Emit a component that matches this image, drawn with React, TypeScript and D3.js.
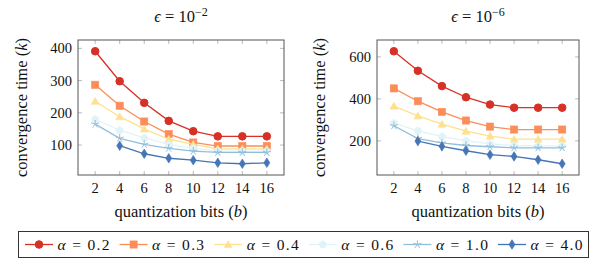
import * as d3 from 'd3';

const BITS = [2, 4, 6, 8, 10, 12, 14, 16];
const ALPHAS = ['0.2', '0.3', '0.4', '0.6', '1.0', '4.0'];
const COLORS = ['#d73027', '#fc8d59', '#fee090', '#e0f3f8', '#91bfdb', '#4575b4'];
const MARKERS = ['circle', 'square', 'triangle', 'pentagon', 'star', 'diamond'];

// eps = 1e-2 (alpha 4.0 has no value at b = 2)
const LEFT_A02 = [391, 298, 231, 175, 143, 127, 127, 127];
const LEFT_A03 = [287, 222, 173, 134, 108, 97, 97, 97];
const LEFT_A04 = [236, 188, 150, 118, 102, 88, 88, 88];
const LEFT_A06 = [180, 146, 122, 102, 90, 82, 81, 81];
const LEFT_A10 = [165, 121, 102, 90, 81, 77, 77, 77];
const LEFT_A40 = [null, 98, 73, 59, 53, 45, 42, 45];

// eps = 1e-6
const RIGHT_A02 = [627, 534, 461, 408, 373, 358, 358, 358];
const RIGHT_A03 = [450, 389, 338, 297, 268, 254, 254, 254];
const RIGHT_A04 = [366, 319, 280, 246, 223, 208, 208, 208];
const RIGHT_A06 = [285, 248, 221, 200, 186, 178, 176, 176];
const RIGHT_A10 = [272, 211, 190, 178, 172, 167, 167, 167];
const RIGHT_A40 = [null, 199, 174, 153, 134, 126, 110, 91];

const LEFT_TICKS = [100, 200, 300, 400];
const RIGHT_TICKS = [200, 400, 600];

const NUM = { fontFamily: '"Liberation Serif"', fontSize: 14.5 };
const BIG = { fontFamily: '"Liberation Serif"', fontSize: 16.5 };
const LEG = { fontFamily: '"Liberation Serif"', fontSize: 15.5 };

type Series = (number | null)[];

function polygon(n: number, r: number, rot = -Math.PI / 2) {
  const pts: string[] = [];
  for (let i = 0; i < n; i++) {
    const a = rot + (i * 2 * Math.PI) / n;
    pts.push(`${(r * Math.cos(a)).toFixed(2)},${(r * Math.sin(a)).toFixed(2)}`);
  }
  return 'M' + pts.join('L') + 'Z';
}

function Marker({ kind, color }: { kind: string; color: string }) {
  if (kind === 'circle') return <circle r={3.8} fill={color} stroke={color} />;
  if (kind === 'square') return <rect x={-3.6} y={-3.6} width={7.2} height={7.2} fill={color} stroke={color} strokeWidth={0.6} />;
  if (kind === 'triangle') return <path d={polygon(3, 4.6)} transform="translate(0,0.8)" fill={color} stroke={color} strokeWidth={0.6} />;
  if (kind === 'pentagon') return <path d={polygon(5, 4)} fill={color} stroke={color} strokeWidth={0.6} />;
  if (kind === 'star') {
    const d = [0, 1, 2, 3, 4]
      .map((i) => {
        const a = -Math.PI / 2 + (i * 2 * Math.PI) / 5;
        return `M0,0L${(4.2 * Math.cos(a)).toFixed(2)},${(4.2 * Math.sin(a)).toFixed(2)}`;
      })
      .join('');
    return <path d={d} fill="none" stroke={color} strokeWidth={1} />;
  }
  return <path d="M0,-4.8L3,0L0,4.8L-3,0Z" fill={color} stroke={color} strokeWidth={0.6} />;
}

interface PanelProps {
  left: number;
  right: number;
  series: Series[];
  ticks: number[];
  exponent: string;
  labelX: number;
}

const TOP = 40;
const BOTTOM = 175;

function Panel({ left, right, series, ticks, exponent, labelX }: PanelProps) {
  const all = series.flat().filter((v): v is number => v !== null);
  const lo = d3.min(all)!;
  const hi = d3.max(all)!;
  const pad = (hi - lo) * 0.1;
  const x = d3.scaleLinear().domain([2 - 1.4, 16 + 1.4]).range([left, right]);
  const y = d3.scaleLinear().domain([lo - pad, hi + pad]).range([BOTTOM, TOP]);
  const cx = (left + right) / 2;
  const cy = (TOP + BOTTOM) / 2;
  const line = d3
    .line<number | null>()
    .defined((d) => d !== null)
    .x((_, i) => x(BITS[i]))
    .y((d) => y(d as number));

  return (
    <g fill="#111">
      {BITS.map((b) => (
        <g key={b} stroke="#aaa" strokeWidth={0.8}>
          <line x1={x(b)} x2={x(b)} y1={BOTTOM} y2={BOTTOM - 4} />
          <line x1={x(b)} x2={x(b)} y1={TOP} y2={TOP + 4} />
        </g>
      ))}
      {ticks.map((t) => (
        <g key={t} stroke="#aaa" strokeWidth={0.8}>
          <line x1={left} x2={left + 4} y1={y(t)} y2={y(t)} />
          <line x1={right} x2={right - 4} y1={y(t)} y2={y(t)} />
        </g>
      ))}
      {series.map((s, k) => (
        <g key={k}>
          <path d={line(s) ?? ''} fill="none" stroke={COLORS[k]} strokeWidth={1.3} />
          {s.map((v, i) =>
            v === null ? null : (
              <g key={i} transform={`translate(${x(BITS[i])},${y(v)})`}>
                <Marker kind={MARKERS[k]} color={COLORS[k]} />
              </g>
            ),
          )}
        </g>
      ))}
      <rect x={left} y={TOP} width={right - left} height={BOTTOM - TOP} fill="none" stroke="#555" strokeWidth={1} />
      {BITS.map((b) => (
        <text key={b} style={NUM} x={x(b)} y={BOTTOM + 18} textAnchor="middle">
          {b}
        </text>
      ))}
      {ticks.map((t) => (
        <text key={t} style={NUM} x={left - 6} y={y(t) + 5} textAnchor="end">
          {t}
        </text>
      ))}
      <text style={BIG} x={cx} y={22} textAnchor="middle">
        <tspan fontStyle="italic">ϵ</tspan> = 10
        <tspan dy={-6} fontSize={12}>
          −{exponent}
        </tspan>
      </text>
      <text style={BIG} x={cx} y={217} textAnchor="middle">
        quantization bits (<tspan fontStyle="italic">b</tspan>)
      </text>
      <text style={BIG} transform={`translate(${labelX},${cy}) rotate(-90)`} textAnchor="middle">
        convergence time (<tspan fontStyle="italic">k</tspan>)
      </text>
    </g>
  );
}

function Legend() {
  const x0 = 25;
  const step = 94.6;
  return (
    <g fill="#111">
      <rect x={18.5} y={231.5} width={570} height={26} fill="none" stroke="#333" strokeWidth={1} />
      {ALPHAS.map((a, k) => {
        const lx = x0 + k * step;
        return (
          <g key={a}>
            <line x1={lx} x2={lx + 28} y1={244.5} y2={244.5} stroke={COLORS[k]} strokeWidth={1.3} />
            <g transform={`translate(${lx + 14},244.5)`}>
              <Marker kind={MARKERS[k]} color={COLORS[k]} />
            </g>
            <text style={LEG} x={lx + 32.5} y={249.5} textLength={52} lengthAdjust="spacing">
              <tspan fontStyle="italic">α</tspan> = {a}
            </text>
          </g>
        );
      })}
    </g>
  );
}

export default function App() {
  return (
    <svg width={598} height={265} style={{ position: 'absolute', left: 0, top: 0, background: '#fff' }}>
      <Panel
        left={78}
        right={284}
        series={[LEFT_A02, LEFT_A03, LEFT_A04, LEFT_A06, LEFT_A10, LEFT_A40]}
        ticks={LEFT_TICKS}
        exponent="2"
        labelX={27}
      />
      <Panel
        left={377}
        right={579}
        series={[RIGHT_A02, RIGHT_A03, RIGHT_A04, RIGHT_A06, RIGHT_A10, RIGHT_A40]}
        ticks={RIGHT_TICKS}
        exponent="6"
        labelX={325}
      />
      <Legend />
    </svg>
  );
}
